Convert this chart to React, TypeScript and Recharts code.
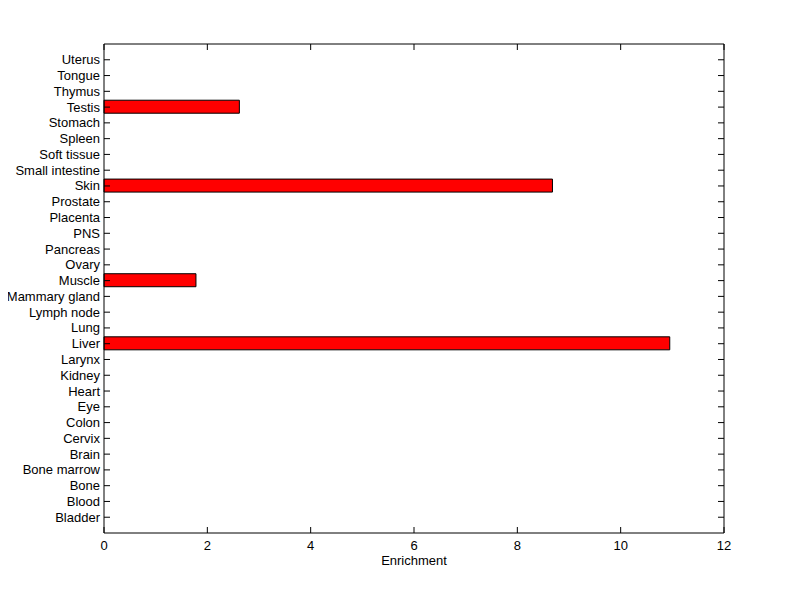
import { BarChart, Bar, XAxis, YAxis, Label } from 'recharts';

// tissues, bottom to top as drawn
const TISSUES = [
  'Bladder', 'Blood', 'Bone', 'Bone marrow', 'Brain', 'Cervix', 'Colon', 'Eye',
  'Heart', 'Kidney', 'Larynx', 'Liver', 'Lung', 'Lymph node', 'Mammary gland',
  'Muscle', 'Ovary', 'Pancreas', 'PNS', 'Placenta', 'Prostate', 'Skin',
  'Small intestine', 'Soft tissue', 'Spleen', 'Stomach', 'Testis', 'Thymus',
  'Tongue', 'Uterus',
];
const ENRICHMENT = [
  0, 0, 0, 0, 0, 0, 0, 0,
  0, 0, 0, 10.95, 0, 0, 0,
  1.78, 0, 0, 0, 0, 0, 8.68,
  0, 0, 0, 0, 2.62, 0,
  0, 0,
];
const X_TICKS = [0, 2, 4, 6, 8, 10, 12];

const data = TISSUES.map((name, i) => ({ name, value: ENRICHMENT[i] }));

const FONT_FAMILY = 'Arial, "Liberation Sans", sans-serif';
const FONT = { fontFamily: FONT_FAMILY, fontSize: 13, fill: '#000' };
const AXIS_LINE = { stroke: '#000', strokeWidth: 1 };
const PAD = 489 / 31 / 2;
const TICK = 6;

// MATLAB-style inward ticks, drawn by hand so labels don't wrap
const BottomTick = ({ x, y, payload }: any) => (
  <g>
    <line x1={x} x2={x} y1={y} y2={y - TICK} stroke="#000" />
    <text x={x} y={y + 17} textAnchor="middle" {...FONT}>{payload.value}</text>
  </g>
);
const TopTick = ({ x, y }: any) => <line x1={x} x2={x} y1={y} y2={y + TICK} stroke="#000" />;
const LeftTick = ({ x, y, payload }: any) => (
  <g>
    <line x1={x} x2={x + TICK} y1={y} y2={y} stroke="#000" />
    <text x={x - 4} y={y + 4.5} textAnchor="end" {...FONT}>{payload.value}</text>
  </g>
);
const RightTick = ({ x, y }: any) => <line x1={x} x2={x - TICK} y1={y} y2={y} stroke="#000" />;

export default function App() {
  return (
    <div style={{ width: 784, height: 583, background: '#fff' }}>
      <BarChart
        width={784}
        height={583}
        data={data}
        layout="vertical"
        margin={{ top: 0, right: 0, bottom: 0, left: 0 }}
        barSize={13}
      >
        <XAxis
          type="number"
          domain={[0, 12]}
          ticks={X_TICKS}
          interval={0}
          height={58}
          tickSize={0}
          tickMargin={0}
          tick={<BottomTick />}
          tickLine={false}
          axisLine={AXIS_LINE}
        >
          <Label value="Enrichment" position="insideTop" offset={23} style={FONT} />
        </XAxis>
        <XAxis
          xAxisId="top"
          orientation="top"
          type="number"
          domain={[0, 12]}
          ticks={X_TICKS}
          interval={0}
          height={36}
          tickSize={0}
          tickMargin={0}
          tick={<TopTick />}
          tickLine={false}
          axisLine={AXIS_LINE}
        />
        <YAxis
          type="category"
          dataKey="name"
          reversed
          width={96}
          interval={0}
          padding={{ top: PAD, bottom: PAD }}
          tickSize={0}
          tickMargin={0}
          tick={<LeftTick />}
          tickLine={false}
          axisLine={AXIS_LINE}
        />
        <YAxis
          yAxisId="right"
          orientation="right"
          type="category"
          dataKey="name"
          reversed
          width={68}
          interval={0}
          padding={{ top: PAD, bottom: PAD }}
          tickSize={0}
          tickMargin={0}
          tick={<RightTick />}
          tickLine={false}
          axisLine={AXIS_LINE}
        />
        <Bar
          xAxisId="top"
          yAxisId="right"
          dataKey="value"
          fill="none"
          stroke="none"
          isAnimationActive={false}
        />
        <Bar dataKey="value" fill="#ff0000" stroke="#000" strokeWidth={1} isAnimationActive={false} />
      </BarChart>
    </div>
  );
}
